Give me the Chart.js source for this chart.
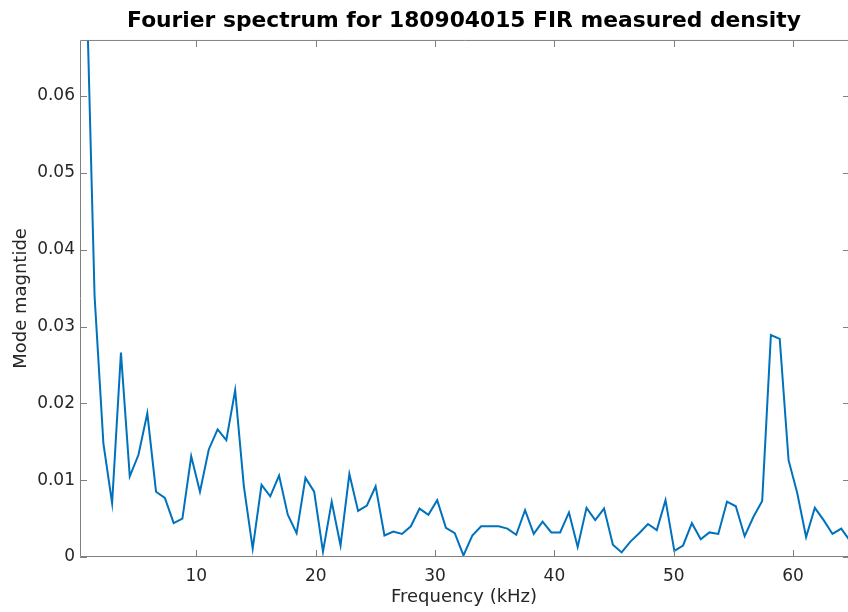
<!DOCTYPE html>
<html>
<head>
<meta charset="utf-8">
<script src="https://cdn.jsdelivr.net/npm/chart.js@4.4.1/dist/chart.umd.min.js"></script>
<style>
  html, body { margin: 0; padding: 0; background: #ffffff; }
  #wrap { width: 848px; height: 612px; }
</style>
</head>
<body>
<div id="wrap"><canvas id="c" width="848" height="612"></canvas></div>
<script>
// Frequency bins (kHz)
const freqs = [0.74, 1.47, 2.21, 2.94, 3.68, 4.42, 5.15, 5.89, 6.62, 7.36,
  8.10, 8.83, 9.57, 10.30, 11.04, 11.78, 12.51, 13.25, 13.98, 14.72,
  15.46, 16.19, 16.93, 17.66, 18.40, 19.14, 19.87, 20.61, 21.34, 22.08,
  22.82, 23.55, 24.29, 25.02, 25.76, 26.50, 27.23, 27.97, 28.70, 29.44,
  30.18, 30.91, 31.65, 32.38, 33.12, 33.86, 34.59, 35.33, 36.06, 36.80,
  37.54, 38.27, 39.01, 39.74, 40.48, 41.22, 41.95, 42.69, 43.42, 44.16,
  44.90, 45.63, 46.37, 47.10, 47.84, 48.58, 49.31, 50.05, 50.78, 51.52,
  52.26, 52.99, 53.73, 54.46, 55.20, 55.94, 56.67, 57.41, 58.14, 58.88,
  59.62, 60.35, 61.09, 61.82, 62.56, 63.30, 64.03, 64.77];

// Mode magnitude
const magnitude = [0.078, 0.034, 0.0148, 0.0070, 0.0266, 0.0105, 0.0133, 0.0187, 0.0085, 0.0077,
  0.0044, 0.0050, 0.0131, 0.0085, 0.0140, 0.0166, 0.0152, 0.0217, 0.0092, 0.0011,
  0.0094, 0.0079, 0.0106, 0.0055, 0.0031, 0.0103, 0.0085, 0.0007, 0.0072, 0.0015,
  0.0108, 0.0060, 0.0067, 0.0092, 0.0028, 0.0033, 0.0030, 0.0040, 0.0063, 0.0055,
  0.0074, 0.0038, 0.0031, 0.0002, 0.0028, 0.0040, 0.0040, 0.0040, 0.0037, 0.0029,
  0.0061, 0.0030, 0.0046, 0.0032, 0.0032, 0.0058, 0.0013, 0.0064, 0.0048, 0.0063,
  0.0016, 0.0006, 0.0020, 0.0031, 0.0043, 0.0035, 0.0074, 0.0008, 0.0015, 0.0044,
  0.0023, 0.0032, 0.0030, 0.0072, 0.0066, 0.0027, 0.0052, 0.0073, 0.0289, 0.0284,
  0.0126, 0.0083, 0.0026, 0.0064, 0.0048, 0.0030, 0.0037, 0.0021];

const xTicks = [10, 20, 30, 40, 50, 60];
const yTicks = [0, 0.01, 0.02, 0.03, 0.04, 0.05, 0.06];

const titleText = 'Fourier spectrum for 180904015 FIR measured density';
const xLabel = 'Frequency (kHz)';
const yLabel = 'Mode magntide';

const axisColor = '#808080';
const textColor = '#262626';
const fontFam = '"DejaVu Sans", "Liberation Sans", sans-serif';

const points = freqs.map((f, i) => ({ x: f, y: magnitude[i] }));

const boxTicks = {
  id: 'boxTicks',
  afterDraw(chart) {
    const { ctx, chartArea: a, scales: { x, y } } = chart;
    ctx.save();
    ctx.strokeStyle = axisColor;
    ctx.lineWidth = 1;
    ctx.beginPath();
    ctx.moveTo(a.right, a.top + 0.5);
    ctx.lineTo(a.left + 0.5, a.top + 0.5);
    ctx.lineTo(a.left + 0.5, a.bottom - 0.5);
    ctx.lineTo(a.right, a.bottom - 0.5);
    ctx.stroke();
    const tl = 7;
    ctx.beginPath();
    xTicks.forEach(v => {
      const px = Math.round(x.getPixelForValue(v)) + 0.5;
      ctx.moveTo(px, a.bottom); ctx.lineTo(px, a.bottom - tl);
      ctx.moveTo(px, a.top); ctx.lineTo(px, a.top + tl);
    });
    yTicks.forEach(v => {
      const py = Math.round(y.getPixelForValue(v)) + 0.5;
      ctx.moveTo(a.left, py); ctx.lineTo(a.left + tl, py);
      ctx.moveTo(a.right + 2, py); ctx.lineTo(a.right + 2 - tl, py);
    });
    ctx.stroke();
    ctx.restore();
  }
};

new Chart(document.getElementById('c'), {
  type: 'line',
  data: {
    datasets: [{
      data: points,
      borderColor: '#0072BD',
      borderWidth: 2,
      pointRadius: 0,
      tension: 0,
      fill: false
    }]
  },
  options: {
    responsive: false,
    animation: false,
    layout: { padding: 0 },
    plugins: {
      legend: { display: false },
      tooltip: { enabled: false },
      title: {
        display: true,
        text: titleText,
        fullSize: false,
        color: '#000000',
        font: { family: fontFam, size: 21.8, weight: 'bold' },
        padding: { top: 8, bottom: 5.8 }
      }
    },
    scales: {
      x: {
        type: 'linear',
        min: 0.25,
        max: 64.6,
        afterBuildTicks: s => { s.ticks = xTicks.map(v => ({ value: v })); },
        afterFit: s => { s.height = 55; },
        grid: { display: false, drawTicks: false },
        border: { display: false },
        ticks: {
          color: textColor,
          font: { family: fontFam, size: 17 },
          padding: 9,
          maxRotation: 0,
          callback: v => String(v)
        },
        title: {
          display: true,
          text: xLabel,
          color: textColor,
          font: { family: fontFam, size: 18 },
          padding: { top: 0, bottom: 4 }
        }
      },
      y: {
        type: 'linear',
        min: 0,
        max: 0.0673,
        afterBuildTicks: s => { s.ticks = yTicks.map(v => ({ value: v })); },
        afterFit: s => { s.width = 80; },
        grid: { display: false, drawTicks: false },
        border: { display: false },
        ticks: {
          color: textColor,
          font: { family: fontFam, size: 17 },
          padding: 5,
          callback: v => (v === 0 ? '0' : v.toFixed(2))
        },
        title: {
          display: true,
          text: yLabel,
          color: textColor,
          font: { family: fontFam, size: 18 },
          padding: { top: 11, bottom: 0 }
        }
      }
    }
  },
  plugins: [boxTicks]
});
</script>
</body>
</html>
